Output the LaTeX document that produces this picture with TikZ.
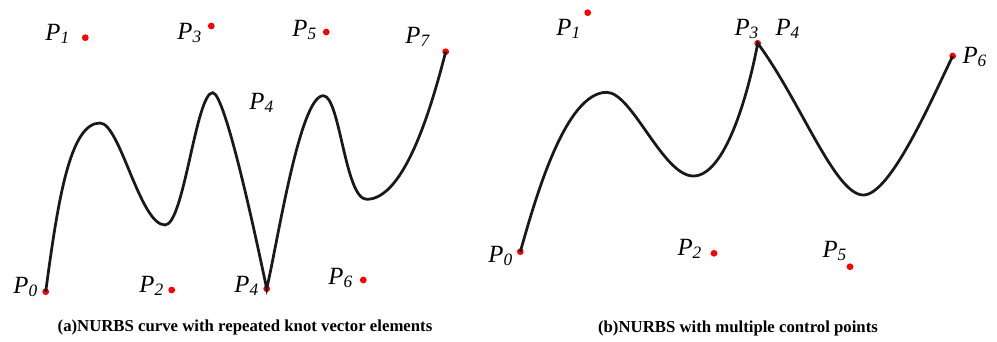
\documentclass[tikz,border=0pt]{standalone}
\usepackage{fontspec}
\setmainfont{Liberation Serif}
\begin{document}
\begin{tikzpicture}[
    x=0.4pt, y=-0.4pt,
    ptdot/.style={circle, fill=red, inner sep=0pt, minimum size=2.7pt},
    lbl/.style={font=\fontsize{9.9}{11}\selectfont\itshape, inner sep=0pt},
    legende/.style={font=\fontsize{6.7}{8}\selectfont\bfseries, inner sep=0pt},
    courbe/.style={line width=1.1pt, black!90, line join=miter},
  ]
  \useasboundingbox (0,0) rectangle (997,341);
  % (a) points de controle
  \node[ptdot] (a0) at (45.7,291.7) {};
  \node[ptdot] (a1) at (85.3,37.7) {};
  \node[ptdot] (a2) at (171.7,290) {};
  \node[ptdot] (a3) at (211.3,26) {};
  \node[ptdot] (a4) at (266.7,288.7) {};
  \node[ptdot] (a5) at (326.3,32) {};
  \node[ptdot] (a6) at (363.3,280) {};
  \node[ptdot] (a7) at (445.7,51.7) {};
  \node[lbl] (la0) at (26,287) {P\textsubscript{0}};
  \node[lbl] (la1) at (58,34) {P\textsubscript{1}};
  \node[lbl] (la2) at (152,286) {P\textsubscript{2}};
  \node[lbl] (la3) at (190,33) {P\textsubscript{3}};
  \node[lbl] (la4h) at (262,103) {P\textsubscript{4}};
  \node[lbl] (la4) at (247,286) {P\textsubscript{4}};
  \node[lbl] (la5) at (305,30) {P\textsubscript{5}};
  \node[lbl] (la6) at (341,278) {P\textsubscript{6}};
  \node[lbl] (la7) at (418,37) {P\textsubscript{7}};
  % courbe (a)
  \draw[courbe] (a0.center) .. controls (58,200) and (70,123) .. (100,123)
    .. controls (120,123) and (140,225) .. (165,225)
    .. controls (184,225) and (196,92.7) .. (212.7,92.7)
    .. controls (225,92.7) and (255.7,236.3) .. (a4.center)
    .. controls (278,240) and (300,95.7) .. (323.3,95.7)
    .. controls (340,95.7) and (345,199.3) .. (366.7,199.3)
    .. controls (405,199.3) and (432,105) .. (a7.center);
  \node[legende] (lega) at (245,327) {(a)NURBS curve with repeated knot vector elements};
  % (b) points de controle
  \node[ptdot] (b0) at (520.3,251.7) {};
  \node[ptdot] (b1) at (587.7,12.7) {};
  \node[ptdot] (b2) at (714,253.3) {};
  \node[ptdot] (b3) at (757.7,43.3) {};
  \node[ptdot] (b5) at (850,266.7) {};
  \node[ptdot] (b6) at (952.7,56) {};
  \node[lbl] (lb0) at (501,256) {P\textsubscript{0}};
  \node[lbl] (lb1) at (569,29) {P\textsubscript{1}};
  \node[lbl] (lb2) at (690,249) {P\textsubscript{2}};
  \node[lbl] (lb3) at (747,29) {P\textsubscript{3}};
  \node[lbl] (lb4) at (788,29) {P\textsubscript{4}};
  \node[lbl] (lb5) at (835,251) {P\textsubscript{5}};
  \node[lbl] (lb6) at (975,57) {P\textsubscript{6}};
  % courbe (b)
  \draw[courbe] (b0.center) .. controls (535,200) and (565,92.3) .. (606.7,92.3)
    .. controls (632,92.3) and (663,176) .. (693.3,176)
    .. controls (725,176) and (748,95) .. (b3.center)
    .. controls (800,100) and (835,195) .. (863.3,195)
    .. controls (890,195) and (930,103) .. (b6.center);
  \node[legende] (legb) at (738,328) {(b)NURBS with multiple control points};
\end{tikzpicture}
\end{document}
